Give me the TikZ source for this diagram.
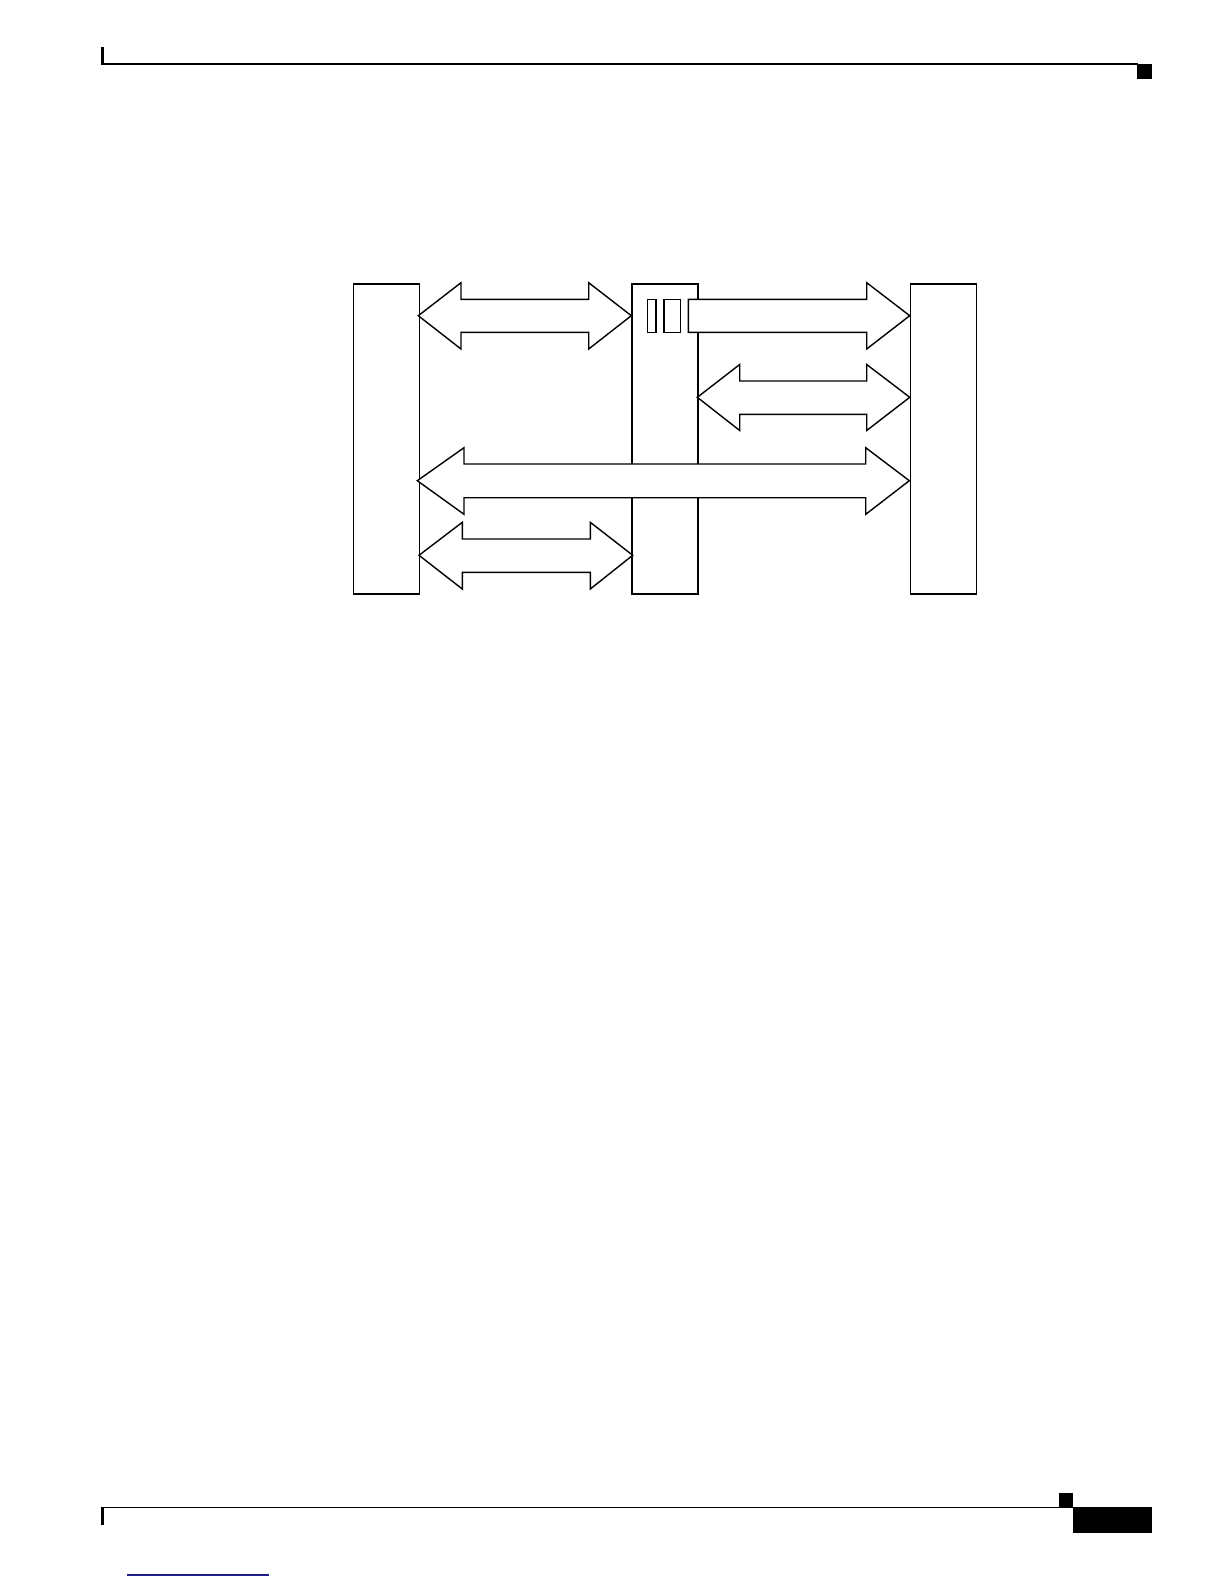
\documentclass[tikz,border=0pt]{standalone}
\usetikzlibrary{positioning}
\definecolor{linkblue}{RGB}{30,30,140}
\begin{document}
\begin{tikzpicture}[x=0.5pt,y=-0.5pt,
  unitbox/.style={draw, line width=0.7pt, fill=white, inner sep=0pt, anchor=north west,
    minimum width=33pt, minimum height=155pt},
  bigarrow/.style={draw, line width=0.7pt, fill=white, line join=miter},
  slot/.style={draw, line width=0.7pt, fill=white},
  pagerule/.style={line width=0.6pt},
  blackmark/.style={fill=black}]
\useasboundingbox (0,0) rectangle (1224,1584);
% page furniture
\fill[blackmark] (101,46.7) rectangle (104,64.3);
\draw[pagerule] (101,64) -- (1138,64);
\fill[blackmark] (1137.3,63.7) rectangle (1151.7,78.7);
\draw[pagerule] (101,1507.3) -- (1073,1507.3);
\fill[blackmark] (101,1507) rectangle (104,1525);
\fill[blackmark] (1059,1492.7) rectangle (1072.7,1507.6);
\fill[blackmark] (1072.7,1507) rectangle (1152,1533);
\draw[linkblue, line width=0.6pt] (126.7,1575) -- (269,1575);
% boxes
\node[unitbox] (L) at (352.7,283.3) {};
\node[unitbox] (M) at (631.3,283.3) {};
\node[unitbox] (R) at (909.7,283.3) {};
% top-left double arrow
\draw[bigarrow] (418.3,315.7) -- (461,282.7) -- (461,299.3) -- (588.7,299.3) -- (588.7,282.7)
  -- (631.3,315.7) -- (588.7,349) -- (588.7,332.3) -- (461,332.3) -- (461,349) -- cycle;
% top-right single arrow
\draw[bigarrow] (688.3,299.3) -- (866.7,299.3) -- (866.7,282.7) -- (909.7,315.7)
  -- (866.7,349) -- (866.7,332.3) -- (688.3,332.3) -- cycle;
\draw[slot] (647.3,299.3) rectangle (656,332.3);
\draw[slot] (664,299.3) rectangle (680.7,332.3);
% middle-right double arrow
\draw[bigarrow] (697.3,397.3) -- (739.7,364.5) -- (739.7,381) -- (866.7,381) -- (866.7,364.5)
  -- (909.7,397.3) -- (866.7,430.5) -- (866.7,414.3) -- (739.7,414.3) -- (739.7,430.5) -- cycle;
% long double arrow
\draw[bigarrow] (417.3,480.7) -- (464,447.7) -- (464,464) -- (865.7,464) -- (865.7,447.7)
  -- (909.3,480.7) -- (865.7,514.3) -- (865.7,497.7) -- (464,497.7) -- (464,514.3) -- cycle;
% bottom-left double arrow
\draw[bigarrow] (419,555.3) -- (462.3,522.3) -- (462.3,539) -- (590.3,539) -- (590.3,522.3)
  -- (632.7,555.3) -- (590.3,589) -- (590.3,572.3) -- (462.3,572.3) -- (462.3,589) -- cycle;
\end{tikzpicture}
\end{document}
